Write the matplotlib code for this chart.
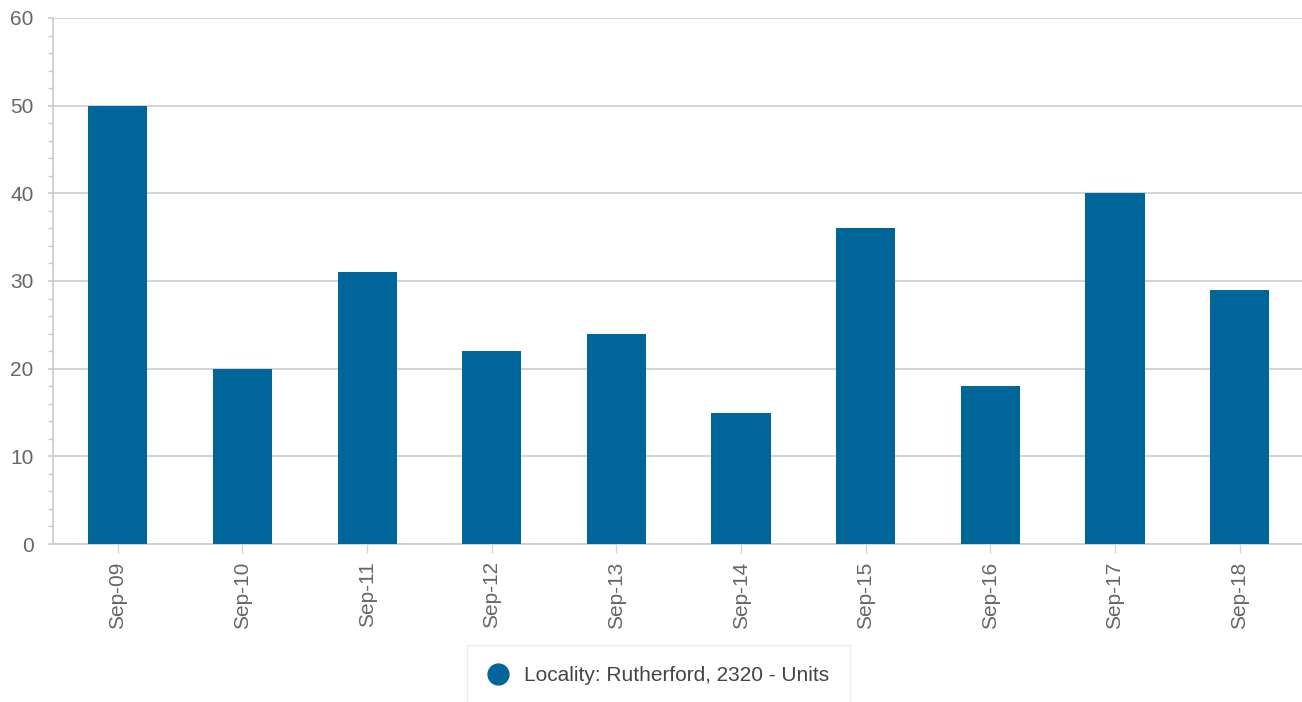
import matplotlib
matplotlib.use("Agg")
import matplotlib.pyplot as plt
from matplotlib.ticker import MultipleLocator
from matplotlib.lines import Line2D

plt.rcParams['font.family'] = ['Liberation Sans', 'DejaVu Sans']

categories = ['Sep-09', 'Sep-10', 'Sep-11', 'Sep-12', 'Sep-13',
              'Sep-14', 'Sep-15', 'Sep-16', 'Sep-17', 'Sep-18']
values = [50, 20, 31, 22, 24, 15, 36, 18, 40, 29]
series_name = 'Locality: Rutherford, 2320 - Units'

bar_color = '#006699'
text_color = '#666666'
grid_color = '#cccccc'

fig = plt.figure(figsize=(13.02, 7.02), dpi=100)
ax = fig.add_axes([53 / 1302, 1 - 544 / 702, 1 - 53 / 1302, (544 - 18) / 702])

x = range(len(categories))
ax.bar(x, values, width=0.475, color=bar_color, zorder=3)

ax.set_xlim(-0.52, len(categories) - 0.5)
ax.set_ylim(0, 60)
ax.yaxis.set_major_locator(MultipleLocator(10))
ax.yaxis.set_minor_locator(MultipleLocator(2))
ax.grid(axis='y', which='major', color=grid_color, linewidth=1.2, zorder=0)

ax.set_xticks(list(x))
ax.set_xticklabels(categories, rotation=90, fontsize=15, color=text_color)
ax.tick_params(axis='x', length=6.5, color='#ccd6eb', width=1, pad=6)
ax.tick_params(axis='y', which='major', length=3.6, color=grid_color, width=1.2,
               labelsize=15, labelcolor=text_color, pad=10.5)
ax.tick_params(axis='y', which='minor', length=3.6, color=grid_color, width=1)

for side in ['top', 'right']:
    ax.spines[side].set_visible(False)
ax.spines['left'].set_color(grid_color)
ax.spines['left'].set_linewidth(1.2)
ax.spines['bottom'].set_color(grid_color)
ax.spines['bottom'].set_linewidth(1.2)

handle = Line2D([], [], marker='o', linestyle='none', markersize=15,
                markerfacecolor=bar_color, markeredgecolor=bar_color)
leg = fig.legend([handle], [series_name], loc='upper left',
                 bbox_to_anchor=(467 / 1302, 1 - 645 / 702), frameon=True,
                 fontsize=15, handlelength=1.0, handletextpad=0.75,
                 borderpad=1.0, borderaxespad=0,
                 fancybox=False, edgecolor='#e6e6e6')
for t in leg.get_texts():
    t.set_color('#444444')

fig.savefig('out.png', dpi=100)
